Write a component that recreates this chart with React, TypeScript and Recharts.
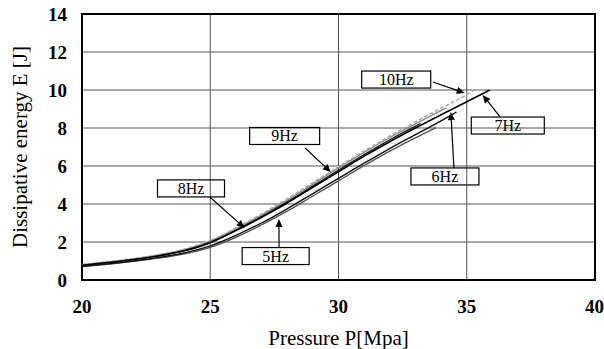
import { LineChart, Line, XAxis, YAxis, CartesianGrid, ReferenceArea, ReferenceLine, ReferenceDot } from "recharts";

// pressure steps shared by all curves, each curve stops at its own last pressure
const pressure = [20, 21, 22, 23, 24, 25, 26, 27, 28, 29, 30, 31, 32, 33, 34, 35];

const hz5 = [0.7, 0.83, 0.98, 1.15, 1.38, 1.72, 2.25, 2.9, 3.62, 4.42, 5.22, 6.02, 6.78, 7.48, 8.02];
const hz6 = [0.72, 0.85, 1.0, 1.19, 1.43, 1.8, 2.35, 3.0, 3.75, 4.55, 5.35, 6.15, 6.92, 7.65, 8.38, 8.84];
const hz7 = [0.78, 0.92, 1.08, 1.28, 1.55, 1.98, 2.6, 3.3, 4.05, 4.88, 5.7, 6.52, 7.28, 8.0, 8.7, 9.38, 10.0];
const hz8 = [0.76, 0.9, 1.07, 1.27, 1.53, 1.96, 2.62, 3.35, 4.12, 4.95, 5.78, 6.6, 7.38, 8.1, 8.24];
const hz9 = [0.8, 0.95, 1.11, 1.32, 1.6, 2.04, 2.7, 3.42, 4.2, 5.05, 5.9, 6.72, 7.5, 8.22, 8.92, 9.06];
const hz10 = [0.82, 0.97, 1.13, 1.34, 1.63, 2.08, 2.74, 3.48, 4.28, 5.12, 5.96, 6.8, 7.58, 8.32, 9.05, 9.75, 10.1];

const lastP = { hz5: 33.8, hz6: 34.6, hz7: 35.9, hz8: 33.2, hz9: 34.2, hz10: 35.4 };

const xTicks = [20, 25, 30, 35, 40];
const yTicks = [0, 2, 4, 6, 8, 10, 12, 14];

// label boxes: text, box centre (P, E), box width in px
const labels = [
  { text: "10Hz", p: 32.25, e: 10.55, w: 69 },
  { text: "7Hz", p: 36.6, e: 8.13, w: 73 },
  { text: "6Hz", p: 34.15, e: 5.45, w: 68 },
  { text: "9Hz", p: 27.9, e: 7.58, w: 70 },
  { text: "8Hz", p: 24.25, e: 4.82, w: 67 },
  { text: "5Hz", p: 27.55, e: 1.26, w: 67 },
];

// arrows from label to curve: [P1, E1, P2, E2]
const arrows = [
  [33.68, 10.42, 34.92, 9.84],
  [36.3, 8.58, 35.62, 9.74],
  [34.5, 5.89, 34.38, 8.84],
  [28.7, 6.95, 29.7, 5.68],
  [24.98, 4.37, 26.34, 2.74],
  [27.68, 1.68, 27.68, 3.21],
];

const build = (vals: number[], end: number) =>
  vals.map((e, i) => ({ p: i < vals.length - 1 ? pressure[i] : end, e }));

const serif = "'Liberation Serif', 'Times New Roman', serif";

const Arrow = (props: any) => {
  const { x1, y1, x2, y2 } = props;
  const a = Math.atan2(y2 - y1, x2 - x1);
  const len = 8;
  const hw = 3.5;
  const bx = x2 - len * Math.cos(a);
  const by = y2 - len * Math.sin(a);
  const pts = [
    `${x2},${y2}`,
    `${bx + hw * Math.sin(a)},${by - hw * Math.cos(a)}`,
    `${bx - hw * Math.sin(a)},${by + hw * Math.cos(a)}`,
  ].join(" ");
  return (
    <g>
      <line x1={x1} y1={y1} x2={bx} y2={by} stroke="#000" strokeWidth={1.2} />
      <polygon points={pts} fill="#000" />
    </g>
  );
};

const LabelBox = (props: any) => {
  const { cx, cy, text, w } = props;
  const h = 17;
  return (
    <g>
      <rect x={cx - w / 2} y={cy - h / 2} width={w} height={h} fill="none" stroke="#000" strokeWidth={1.2} />
      <text x={cx} y={cy + 5.5} textAnchor="middle" fontFamily={serif} fontSize={16} fill="#000">
        {text}
      </text>
    </g>
  );
};

const XTitle = (props: any) => {
  const { viewBox } = props;
  return (
    <text x={viewBox.x + viewBox.width / 2} y={viewBox.y + 65} textAnchor="middle" fontFamily={serif} fontSize={21} fill="#000">
      Pressure P[Mpa]
    </text>
  );
};

const YTitle = (props: any) => {
  const { viewBox } = props;
  const cy = viewBox.y + viewBox.height / 2;
  return (
    <text x={27} y={cy} transform={`rotate(-90, 27, ${cy})`} textAnchor="middle" fontFamily={serif} fontSize={21} fill="#000">
      Dissipative energy E [J]
    </text>
  );
};

export default function App() {
  const tickStyle = { fontFamily: serif, fontSize: 19, fontWeight: "bold", fill: "#000" };
  return (
    <div style={{ position: "absolute", left: 0, top: 0, background: "#fff" }}>
      <LineChart width={604} height={349} margin={{ top: 14, right: 9, bottom: 0, left: 0 }}>
        <CartesianGrid stroke="#555" strokeWidth={1} />
        <XAxis
          type="number"
          dataKey="p"
          domain={[20, 40]}
          ticks={xTicks}
          height={69}
          tickSize={0}
          tickMargin={20}
          axisLine={false}
          tick={tickStyle}
          label={<XTitle />}
        />
        <YAxis
          type="number"
          domain={[0, 14]}
          ticks={yTicks}
          width={82}
          tickSize={0}
          tickMargin={15}
          axisLine={false}
          tick={tickStyle}
          label={<YTitle />}
        />
        <ReferenceArea x1={20} x2={40} y1={0} y2={14} fill="none" stroke="#000" strokeWidth={2} strokeOpacity={1} />
        <Line data={build(hz5, lastP.hz5)} dataKey="e" type="monotone" stroke="#555" strokeWidth={1.4} dot={false} isAnimationActive={false} />
        <Line data={build(hz6, lastP.hz6)} dataKey="e" type="monotone" stroke="#111" strokeWidth={1.4} dot={false} isAnimationActive={false} />
        <Line data={build(hz8, lastP.hz8)} dataKey="e" type="monotone" stroke="#222" strokeWidth={1.4} dot={false} isAnimationActive={false} />
        <Line data={build(hz9, lastP.hz9)} dataKey="e" type="monotone" stroke="#888" strokeWidth={1.4} dot={false} isAnimationActive={false} />
        <Line data={build(hz10, lastP.hz10)} dataKey="e" type="monotone" stroke="#aaa" strokeWidth={1.4} strokeDasharray="4 2" dot={false} isAnimationActive={false} />
        <Line data={build(hz7, lastP.hz7)} dataKey="e" type="monotone" stroke="#000" strokeWidth={1.6} dot={false} isAnimationActive={false} />
        {arrows.map((a, i) => (
          <ReferenceLine key={`a${i}`} segment={[{ x: a[0], y: a[1] }, { x: a[2], y: a[3] }]} shape={<Arrow />} />
        ))}
        {labels.map((l) => (
          <ReferenceDot key={l.text} x={l.p} y={l.e} r={1} shape={<LabelBox text={l.text} w={l.w} />} />
        ))}
      </LineChart>
    </div>
  );
}
